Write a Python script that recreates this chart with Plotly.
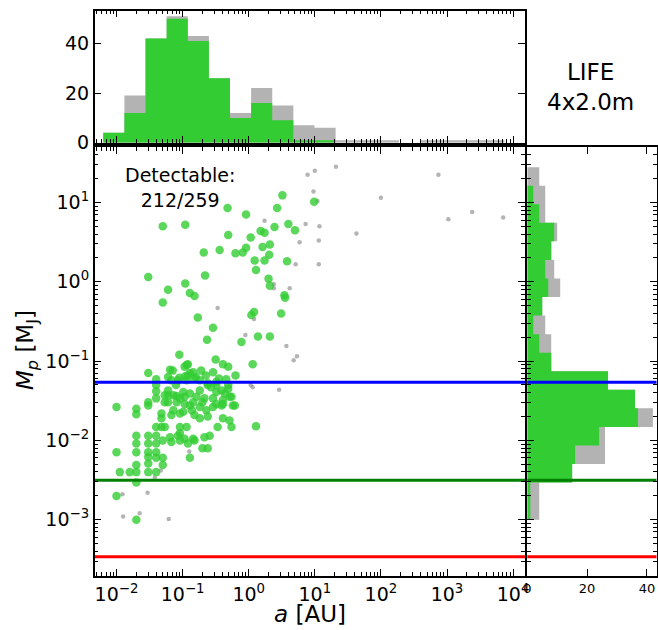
import plotly.graph_objects as go
import numpy as np

# ---------------- data (log10 values) ----------------
det_log_a = [-0.04, 0.51, 0.43, 0.99, 0.60, 0.70, 0.39, 0.18, 0.24, 0.03, -0.04, -0.09, 0.21, 0.32, 0.31,
             0.09, 0.24, 0.58, 0.11, 0.30, 0.32, 0.54, 0.55, 0.08, 0.04, 0.49, 0.14, 0.32, -0.11, 0.06,
             -1.30, -0.96, -0.32, -0.31, -0.68, -0.44, -0.20, -1.52, -0.66, -1.22, -1.30, -0.96, -0.89, -0.82, -0.77,
             -0.54, -0.63, -1.05, -0.92, -0.97, -0.50, -0.39, -0.31, -1.52, -1.40, -1.22, -1.15, -1.05, -0.96, -0.89,
             -0.80, -0.72, -0.65, -0.54, -0.49, -0.34, -0.20, -0.94, -0.84, -0.92, -0.82, -1.40, -1.40, -0.31, -0.62,
             -1.52, -1.52, -2.00, -1.70, -1.70, -1.40, -1.22, -1.22, -1.09, -1.09, -0.97, -0.89, -0.84, -0.89, -0.74,
             -0.49, -0.41, -0.29, -0.39, -0.54, -0.67, -0.79, -0.97, -0.74, -0.64, -0.54, -0.41, -0.24, -0.26, -0.82,
             -0.74, -0.62, -0.39, -0.29, -0.47, -0.26, -0.94, -1.04, -0.59, -0.67, -0.84, -0.97, -1.04, 0.11, -1.32,
             -1.32, -1.27, -1.27, -1.22, -1.19, -1.14, -1.04, -0.99, -1.32, -1.27, -1.17, -1.14, -1.04, -0.99, -1.19,
             -1.07, -1.30, -1.17, -1.04, -2.00, -1.70, -1.70, -1.70, -1.70, -1.70, -1.70, -1.52, -1.52, -1.52, -1.52,
             -1.52, -1.52, -1.40, -1.40, -1.40, -1.40, -1.30, -1.30, -1.95, -1.80, -2.00, -1.70, -0.92, -0.82, -0.70,
             -0.62, -0.89, -1.17, -1.07, -0.94, -0.74, -0.62, -0.49, -0.31, -0.36, -0.21, -0.49, -0.39, -1.40, -1.40,
             -0.57, -0.45, -0.70, -1.10, -0.86]
det_log_m = [0.85, 1.09, 0.93, 1.01, 0.73, 0.65, 0.69, 0.64, 0.62, 0.56, 0.43, 0.37, 0.44, 0.47, 0.34,
             0.27, 0.27, 0.26, 0.15, 0.04, -0.05, -0.17, -0.20, -0.38, -0.42, -0.40, -0.69, -0.69, -0.76, -1.04,
             0.70, 0.72, 0.93, 0.59, 0.37, 0.40, 0.36, 0.06, 0.08, -0.10, -0.26, -0.02, -0.14, -0.18, -0.45,
             -0.58, -0.73, -0.92, -1.04, -1.07, -0.98, -1.04, -1.07, -1.15, -1.23, -1.20, -1.12, -1.21, -1.19, -1.15,
             -1.20, -1.12, -1.18, -1.14, -1.26, -1.23, -1.18, -1.05, -1.14, -1.18, -1.22, -1.38, -1.30, -1.30, -1.30,
             -1.52, -1.56, -1.58, -1.60, -1.67, -1.47, -1.43, -1.52, -1.44, -1.52, -1.45, -1.41, -1.52, -1.56, -1.37,
             -1.39, -1.37, -1.45, -1.49, -1.47, -1.47, -1.45, -1.54, -1.58, -1.62, -1.58, -1.56, -1.56, -1.45, -1.68,
             -1.72, -1.70, -1.72, -1.75, -1.83, -1.83, -1.83, -1.83, -1.94, -1.96, -1.98, -1.98, -1.91, -1.82, -1.66,
             -1.72, -1.52, -1.43, -1.37, -1.11, -1.43, -1.47, -1.39, -1.83, -1.83, -1.68, -1.62, -1.66, -1.64, -1.96,
             -1.94, -2.00, -2.02, -2.00, -2.15, -1.94, -2.04, -2.15, -2.31, -2.40, -2.53, -1.94, -2.04, -2.15, -2.21,
             -2.29, -2.40, -2.04, -2.15, -2.22, -2.40, -2.22, -2.31, -2.40, -2.40, -2.70, -3.00, -2.04, -2.00, -2.10,
             -2.10, -2.22, -1.24, -1.24, -1.24, -1.24, -1.28, -1.30, -1.35, -1.41, -1.56, -1.54, -1.54, -1.94, -1.83,
             -1.33, -1.22, -1.52, -1.30, -1.62]

und_log_a = [0.89, 1.00, 1.32, 2.87, 0.98, 1.04, 2.00, 0.24, 0.86, 1.07, 3.02, 3.38, 3.85, 1.63, 0.77,
             1.06, 0.71, 1.06, 0.38, 0.38, 0.62, 0.08, -0.05, 0.57, 0.68, 0.73, 0.06, 0.03, 0.46, -0.47,
             -1.91, -1.53, -1.90, -1.65, -1.21, -0.90, -1.42, -1.33]
und_log_m = [1.35, 1.40, 1.45, 1.35, 1.14, 1.02, 1.06, 0.77, 0.73, 0.70, 0.79, 0.88, 0.81, 0.61, 0.50,
             0.52, 0.22, 0.22, -0.03, -0.08, -0.08, -0.47, -0.67, -0.81, -0.99, -0.94, -1.33, -1.30, -1.36, -0.33,
             -2.68, -2.66, -2.96, -2.92, -2.99, -2.14, -2.47, -2.38]

# semi-major axis histogram (log10 bins)
a_bin_start, a_bin_width = -2.20, 0.3195
a_hist_all = [4, 19, 42, 51, 43, 26, 12, 22, 15, 7, 6, 1, 1, 1, 0, 1, 1, 1, 1, 0]
a_hist_det = [4, 12, 42, 50, 41, 26, 10, 16, 9, 1, 1, 0, 0, 0, 0, 0, 0, 0, 0, 0]

# mass histogram (log10 bins, bottom to top)
m_bin_start, m_bin_width = -3.0, 0.234
m_hist_all = [4, 4, 15, 26, 26, 42, 36, 27, 8, 8, 6, 5, 11, 9, 8, 10, 6, 6, 4]
m_hist_det = [1, 1, 15, 16, 24, 37, 36, 27, 8, 4, 2, 5, 7, 6, 8, 9, 4, 2, 0]

ref_mass = [0.054, 0.00315, 0.00034]          # Neptune, Earth, Mars in M_J
ref_color = ["#0000ff", "#008000", "#ff0000"]

n_det, n_tot = 212, 259

# ---------------- helpers ----------------
def step_poly(edges, counts):
    xs, ys = [edges[0]], [0]
    for i, c in enumerate(counts):
        xs += [edges[i], edges[i + 1]]
        ys += [c, c]
    xs.append(edges[-1]); ys.append(0)
    return xs, ys

a_edges = 10 ** (a_bin_start + a_bin_width * np.arange(len(a_hist_all) + 1))
m_edges = 10 ** (m_bin_start + m_bin_width * np.arange(len(m_hist_all) + 1))

GREEN = "#33cc33"
GRAY = "#b3b3b3"

fig = go.Figure()

# top histogram
for counts, col in [(a_hist_all, GRAY), (a_hist_det, GREEN)]:
    xs, ys = step_poly(list(a_edges), counts)
    fig.add_trace(go.Scatter(x=xs, y=ys, mode="lines", fill="toself", fillcolor=col,
                             line=dict(width=0, color=col), xaxis="x2", yaxis="y2",
                             hoverinfo="skip", showlegend=False))

# right histogram
for counts, col in [(m_hist_all, GRAY), (m_hist_det, GREEN)]:
    ys, xs = step_poly(list(m_edges), counts)
    fig.add_trace(go.Scatter(x=xs, y=ys, mode="lines", fill="toself", fillcolor=col,
                             line=dict(width=0, color=col), xaxis="x3", yaxis="y3",
                             hoverinfo="skip", showlegend=False))

# scatter
fig.add_trace(go.Scatter(x=10 ** np.array(und_log_a), y=10 ** np.array(und_log_m), mode="markers",
                         marker=dict(size=4.5, color="rgba(140,140,140,0.65)", line=dict(width=0)),
                         xaxis="x", yaxis="y", showlegend=False))
fig.add_trace(go.Scatter(x=10 ** np.array(det_log_a), y=10 ** np.array(det_log_m), mode="markers",
                         marker=dict(size=8.5, color="rgba(50,205,50,0.8)", line=dict(width=0)),
                         xaxis="x", yaxis="y", showlegend=False))

# reference mass lines
for m, c in zip(ref_mass, ref_color):
    fig.add_trace(go.Scatter(x=[1e-4, 1e6], y=[m, m], mode="lines", line=dict(color=c, width=3),
                             xaxis="x", yaxis="y", showlegend=False, hoverinfo="skip"))
    fig.add_trace(go.Scatter(x=[-10, 100], y=[m, m], mode="lines", line=dict(color=c, width=3),
                             xaxis="x3", yaxis="y3", showlegend=False, hoverinfo="skip"))

W, H = 658, 630
def px(x): return x / W
def py(y): return 1 - y / H

def sup(p):
    return "10<sup>" + ("\u2212" + str(-p) if p < 0 else str(p)) + "</sup>"

minor_x = [k * 10.0 ** d for d in range(-3, 5) for k in range(2, 10)]
minor_y = [k * 10.0 ** d for d in range(-4, 2) for k in range(2, 10)]

axis_common = dict(showline=True, linecolor="black", linewidth=1.5, mirror="allticks",
                   ticks="inside", ticklen=7, tickwidth=1.3, tickcolor="black",
                   showgrid=False, zeroline=False, automargin=False,
                   tickfont=dict(family="DejaVu Sans", size=19, color="black"))

main_x = [px(94.7), px(525)]
main_y = [py(576), py(147)]

def ann(text, x, y, size, **kw):
    return dict(text=text, x=px(x), y=py(y), xref="paper", yref="paper", showarrow=False,
                xanchor="center", yanchor="middle", align="center",
                font=dict(size=size, family="DejaVu Sans", color="black"), **kw)

fig.update_layout(
    width=W, height=H, margin=dict(l=0, r=0, t=0, b=0, pad=0, autoexpand=False),
    paper_bgcolor="white", plot_bgcolor="white",
    font=dict(family="DejaVu Sans", color="black"),
    xaxis=dict(axis_common, type="log", range=[-2.33, 4.18], domain=main_x, anchor="y",
               tickmode="array", tickvals=[10.0 ** p for p in range(-2, 5)],
               ticktext=[sup(p) for p in range(-2, 5)],
               minor=dict(tickmode="array", tickvals=minor_x, ticks="inside", ticklen=4,
                          tickcolor="black", showgrid=False)),
    yaxis=dict(axis_common, type="log", range=[-3.71, 1.70], domain=main_y, anchor="x",
               tickmode="array", tickvals=[10.0 ** p for p in range(-3, 2)],
               ticktext=[sup(p) for p in range(-3, 2)],
               minor=dict(tickmode="array", tickvals=minor_y, ticks="inside", ticklen=4,
                          tickcolor="black", showgrid=False)),
    xaxis2=dict(axis_common, type="log", range=[-2.33, 4.18], domain=main_x, anchor="y2",
                tickmode="array", tickvals=[10.0 ** p for p in range(-2, 5)], showticklabels=False,
                minor=dict(tickmode="array", tickvals=minor_x, ticks="inside", ticklen=4,
                           tickcolor="black", showgrid=False)),
    yaxis2=dict(axis_common, range=[0, 53.2], domain=[py(142.7), py(10.7)], anchor="x2",
                tickmode="array", tickvals=[0, 20, 40]),
    xaxis3=dict(axis_common, range=[0, 43.2], domain=[px(527.3), px(656.5)], anchor="y3",
                tickmode="array", tickvals=[0, 20, 40],
                tickfont=dict(family="DejaVu Sans", size=13, color="black")),
    yaxis3=dict(axis_common, type="log", range=[-3.71, 1.70], domain=main_y, anchor="x3",
                tickmode="array", tickvals=[10.0 ** p for p in range(-3, 2)], showticklabels=False,
                minor=dict(tickmode="array", tickvals=minor_y, ticks="inside", ticklen=4,
                           tickcolor="black", showgrid=False)),
    annotations=[
        ann("Detectable:<br>%d/%d" % (n_det, n_tot), 180, 187, 19),
        ann("LIFE<br>4x2.0m", 590, 87, 23),
        ann("<i>a</i> [AU]", 310, 614, 23),
        ann("<i>M</i><sub><i>p</i></sub> [M<sub>J</sub>]", 27, 350, 23, textangle=-90),
    ],
)

fig.write_html("out.html")
